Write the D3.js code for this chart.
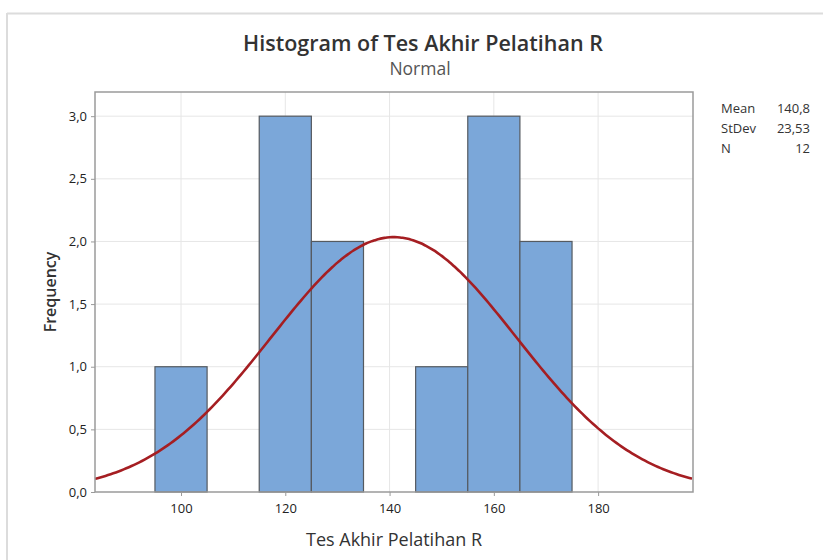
<!DOCTYPE html>
<html>
<head>
<meta charset="utf-8">
<script src="https://cdn.jsdelivr.net/npm/d3@7"></script>
<style>
  body { margin: 0; background: #fff; }
  svg { display: block; font-family: "Open Sans", "Noto Sans", sans-serif; }
</style>
</head>
<body>
<svg id="chart" width="823" height="560"></svg>
<script>
// ---- data ----
const binStarts = [95, 115, 125, 145, 155, 165];
const binCounts = [1, 3, 2, 1, 3, 2];
const binWidth = 10;
const xTicks = [100, 120, 140, 160, 180];
const yTicks = [0, 0.5, 1.0, 1.5, 2.0, 2.5, 3.0];
const statLabels = ["Mean", "StDev", "N"];
const statValues = ["140,8", "23,53", "12"];
const mean = 140.8, sd = 23.53, n = 12;

const svg = d3.select("#chart");
const W = 823, H = 560;

// outer frame lines
svg.append("line").attr("x1", 7).attr("x2", W).attr("y1", 13.5).attr("y2", 13.5)
  .attr("stroke", "#dcdcdc").attr("stroke-width", 2);
svg.append("line").attr("x1", 7).attr("x2", 7).attr("y1", 13).attr("y2", H)
  .attr("stroke", "#dcdcdc").attr("stroke-width", 2);

const L = 95, R = 693, T = 92, B = 492;
const x = d3.scaleLinear().domain([83.5, 198.2]).range([L, R]);
const y = d3.scaleLinear().domain([0, 3.193]).range([B, T]);

// gridlines
svg.append("g").selectAll("line.gx").data(xTicks).join("line")
  .attr("x1", d => x(d)).attr("x2", d => x(d)).attr("y1", T).attr("y2", B)
  .attr("stroke", "#e6e6e6").attr("stroke-width", 1);
svg.append("g").selectAll("line.gy").data(yTicks.filter(d => d > 0)).join("line")
  .attr("x1", L).attr("x2", R).attr("y1", d => y(d)).attr("y2", d => y(d))
  .attr("stroke", "#e6e6e6").attr("stroke-width", 1);

// bars
svg.append("g").selectAll("rect").data(binStarts.map((s, i) => ({s, c: binCounts[i]}))).join("rect")
  .attr("x", d => x(d.s)).attr("width", d => x(d.s + binWidth) - x(d.s))
  .attr("y", d => y(d.c)).attr("height", d => y(0) - y(d.c))
  .attr("fill", "#7ba7d9").attr("stroke", "#555a60").attr("stroke-width", 1.2);

// normal curve
const pts = d3.range(83.5, 198.21, 0.5).map(v => [v, n * binWidth * Math.exp(-0.5 * ((v - mean) / sd) ** 2) / (sd * Math.sqrt(2 * Math.PI))]);
svg.append("path").datum(pts)
  .attr("d", d3.line().x(d => x(d[0])).y(d => y(d[1])).curve(d3.curveBasis))
  .attr("fill", "none").attr("stroke", "#a51e22").attr("stroke-width", 2.6);

// plot frame
svg.append("rect").attr("x", L).attr("y", T).attr("width", R - L).attr("height", B - T)
  .attr("fill", "none").attr("stroke", "#9a9a9a").attr("stroke-width", 1.5);

// axes
const xAxis = svg.append("g").attr("transform", `translate(0,${B})`)
  .call(d3.axisBottom(x).tickValues(xTicks).tickSize(4).tickSizeOuter(0).tickPadding(8));
const yAxis = svg.append("g").attr("transform", `translate(${L},0)`)
  .call(d3.axisLeft(y).tickValues(yTicks).tickSize(4).tickSizeOuter(0).tickPadding(4)
    .tickFormat(d => d3.format(".1f")(d).replace(".", ",")));
[xAxis, yAxis].forEach(g => {
  g.select(".domain").remove();
  g.selectAll(".tick line").attr("stroke", "#9a9a9a");
  g.selectAll(".tick text").attr("fill", "#222").style("font-size", "13px").style("font-family", "'Open Sans', sans-serif");
});

// titles
svg.append("text").attr("x", 423).attr("y", 51).attr("text-anchor", "middle")
  .attr("fill", "#333").style("font-size", "21.5px").style("font-weight", "600")
  .text("Histogram of Tes Akhir Pelatihan R");
svg.append("text").attr("x", 420).attr("y", 75).attr("text-anchor", "middle")
  .attr("fill", "#555").style("font-size", "17.5px")
  .text("Normal");
svg.append("text").attr("x", 394).attr("y", 546).attr("text-anchor", "middle")
  .attr("fill", "#333").style("font-size", "18px")
  .text("Tes Akhir Pelatihan R");
svg.append("text").attr("transform", "translate(56,292) rotate(-90)").attr("text-anchor", "middle")
  .attr("fill", "#333").style("font-size", "16px").style("font-weight", "600")
  .text("Frequency");

// stats
const st = svg.append("g");
st.selectAll("text.l").data(statLabels).join("text")
  .attr("x", 721).attr("y", (d, i) => 113 + i * 20)
  .attr("fill", "#333").style("font-size", "13px").text(d => d);
st.selectAll("text.v").data(statValues).join("text")
  .attr("x", 810).attr("y", (d, i) => 113 + i * 20).attr("text-anchor", "end")
  .attr("fill", "#333").style("font-size", "13px").text(d => d);
</script>
</body>
</html>
